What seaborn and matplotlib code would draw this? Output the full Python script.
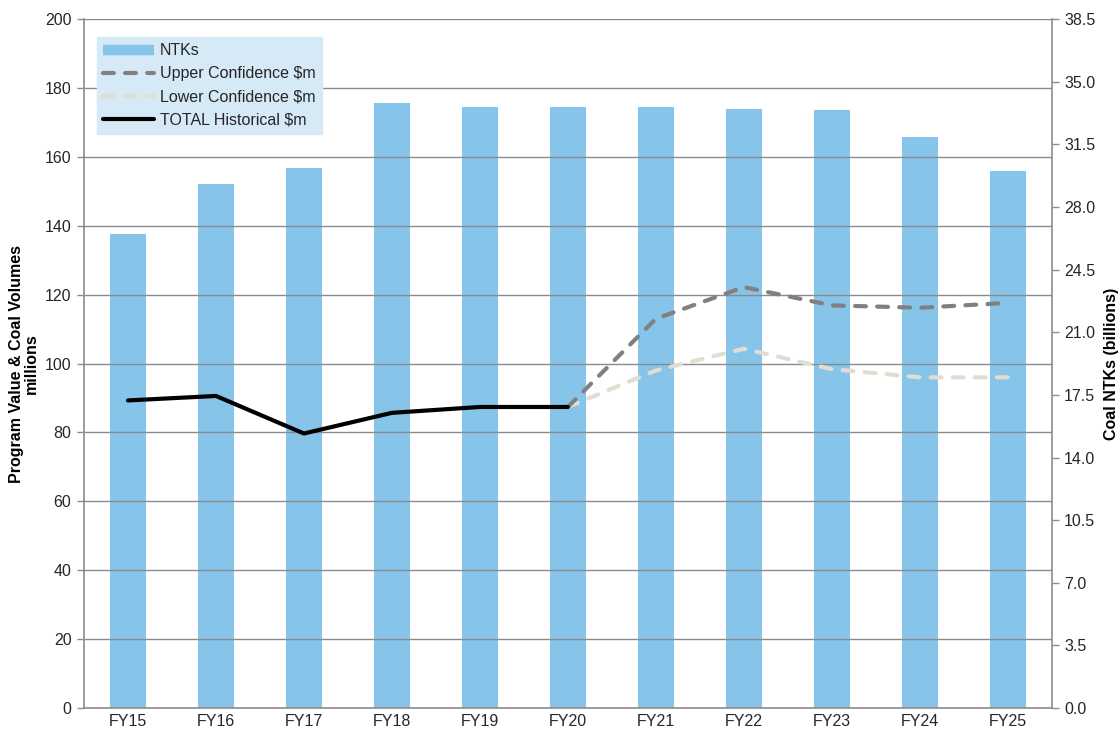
import matplotlib
matplotlib.use("Agg")
import matplotlib.pyplot as plt
import seaborn as sns
import pandas as pd
from matplotlib.lines import Line2D

# Financial years shown on the category axis
years = ["FY15", "FY16", "FY17", "FY18", "FY19", "FY20",
         "FY21", "FY22", "FY23", "FY24", "FY25"]

# Coal NTKs (billions) - right axis
ntks = [26.5, 29.3, 30.2, 33.8, 33.6, 33.6, 33.6, 33.5, 33.4, 31.9, 30.0]

# Program value ($m) - left axis
hist_years = ["FY15", "FY16", "FY17", "FY18", "FY19", "FY20"]
hist_total = [89.3, 90.6, 79.7, 85.7, 87.4, 87.4]

fcst_years = ["FY20", "FY21", "FY22", "FY23", "FY24", "FY25"]
upper_conf = [87.4, 113.0, 122.2, 116.9, 116.2, 117.6]
lower_conf = [87.4, 98.0, 104.3, 98.4, 96.0, 96.0]

left_ticks = list(range(0, 201, 20))
right_ticks = [0.0, 3.5, 7.0, 10.5, 14.0, 17.5, 21.0, 24.5, 28.0, 31.5, 35.0, 38.5]

sns.set_theme(style="white")
plt.rcParams["font.family"] = ["Liberation Sans", "DejaVu Sans"]

BAR = "#86c4ea"
UPPER = "#808080"
LOWER = "#e0ddd2"
AXC = "#8c8c8c"
TXT = "#262626"
FS = 11.5

fig = plt.figure(figsize=(11.2, 7.33), dpi=100)
ax1 = fig.add_axes([0.075, 0.034, 0.864, 0.940])
ax2 = ax1.twinx()

pos = {y: i for i, y in enumerate(years)}

bars_df = pd.DataFrame({"x": range(len(years)), "ntks": ntks})
sns.barplot(data=bars_df, x="x", y="ntks", ax=ax2, color=BAR,
            saturation=1, width=0.41, native_scale=True, linewidth=0)

hist_df = pd.DataFrame({"x": [pos[y] for y in hist_years], "v": hist_total})
up_df = pd.DataFrame({"x": [pos[y] for y in fcst_years], "v": upper_conf})
lo_df = pd.DataFrame({"x": [pos[y] for y in fcst_years], "v": lower_conf})

dash = (2.6, 2.7)
sns.lineplot(data=lo_df, x="x", y="v", ax=ax1, color=LOWER, lw=3.0,
             dashes=False, zorder=4)
ax1.lines[-1].set_dashes(dash)
ax1.lines[-1].set_dash_capstyle("round")
sns.lineplot(data=up_df, x="x", y="v", ax=ax1, color=UPPER, lw=3.0,
             dashes=False, zorder=5)
ax1.lines[-1].set_dashes(dash)
ax1.lines[-1].set_dash_capstyle("round")
sns.lineplot(data=hist_df, x="x", y="v", ax=ax1, color="black", lw=3.0,
             zorder=6, solid_capstyle="round", solid_joinstyle="round")

# Axis layering: lines and grid above bars
ax1.set_zorder(ax2.get_zorder() + 1)
ax1.patch.set_visible(False)

ax1.set_xlim(-0.5, len(years) - 0.5)
ax1.set_ylim(0, 200)
ax2.set_ylim(0, 38.5)
ax1.set_yticks(left_ticks)
ax1.set_yticklabels([str(t) for t in left_ticks])
ax2.set_yticks(right_ticks)
ax2.set_yticklabels([f"{t:.1f}" for t in right_ticks])

# Category labels centred, tick marks between categories
ax1.set_xticks(range(len(years)))
ax1.set_xticklabels(years)
ax1.set_xticks([i - 0.5 for i in range(len(years) + 1)], minor=True)
ax1.tick_params(axis="x", which="major", length=0, pad=4, labelsize=FS, colors=TXT)
ax1.tick_params(axis="x", which="minor", length=5, width=1, color=AXC, direction="out")
ax1.tick_params(axis="y", length=5, width=1, color=AXC, direction="out",
                labelsize=FS, labelcolor=TXT, left=True, pad=4)
ax2.tick_params(axis="y", length=5, width=1, color=AXC, direction="out",
                labelsize=FS, labelcolor=TXT, right=True, pad=4)
ax2.set_xlabel("")
ax1.set_xlabel("")

ax1.grid(axis="y", color="#8a8a8a", lw=1.0, zorder=1)
ax1.grid(axis="x", visible=False)
ax2.grid(False)
ax1.set_axisbelow(True)

for ax in (ax1, ax2):
    for s in ax.spines.values():
        s.set_visible(False)
for side in ("left", "bottom"):
    ax1.spines[side].set_visible(True)
    ax1.spines[side].set_color(AXC)
    ax1.spines[side].set_linewidth(1.2)
ax2.spines["right"].set_visible(True)
ax2.spines["right"].set_color(AXC)
ax2.spines["right"].set_linewidth(1.2)

ax1.set_ylabel("Program Value & Coal Volumes\nmillions", fontsize=FS,
               fontweight="bold", color="black", labelpad=4, linespacing=1.0)
ax2.set_ylabel("Coal NTKs (billions)", fontsize=FS, fontweight="bold",
               color="black", labelpad=6)

handles = [
    Line2D([0], [0], color=BAR, lw=7.5, solid_capstyle="butt"),
    Line2D([0], [0], color=UPPER, lw=3.0, dashes=dash, dash_capstyle="round"),
    Line2D([0], [0], color=LOWER, lw=3.0, dashes=dash, dash_capstyle="round"),
    Line2D([0], [0], color="black", lw=3.0, solid_capstyle="round"),
]
labels = ["NTKs", "Upper Confidence $m", "Lower Confidence $m", "TOTAL Historical $m"]
leg = ax1.legend(handles, labels, loc="upper left", bbox_to_anchor=(0.0134, 0.974),
                 borderaxespad=0, frameon=True, fancybox=False, framealpha=1,
                 facecolor="#d5e9f6", edgecolor="#d5e9f6", fontsize=FS,
                 handlelength=3.2, handletextpad=0.35, labelspacing=0.5,
                 borderpad=0.4)
for t in leg.get_texts():
    t.set_color(TXT)
leg.set_zorder(10)

fig.savefig("out.png", dpi=100)
